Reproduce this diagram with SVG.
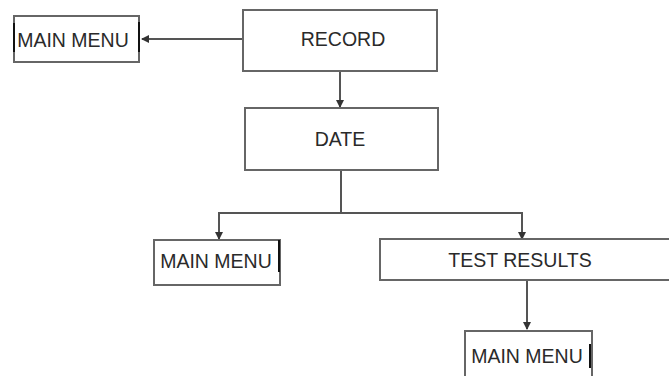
<svg xmlns="http://www.w3.org/2000/svg" width="669" height="376" viewBox="0 0 669 376">
<style>
.box{fill:#fff;stroke:#666;stroke-width:2}
.t{font-family:"Liberation Sans",Arial,sans-serif;font-size:19.5px;fill:#2a2a2a;text-anchor:middle;dominant-baseline:central}
.c{fill:none;stroke:#555;stroke-width:2}
.mk{stroke:#111;stroke-width:2}
</style>
<defs>
<marker id="ah" viewBox="0 0 8 8" refX="7" refY="4" markerWidth="4" markerHeight="4" orient="auto" markerUnits="strokeWidth">
<path d="M0,0L8,4L0,8z" fill="#333"/>
</marker>
</defs>
<rect width="669" height="376" fill="#fff"/>
<g id="connectors">
<line class="c" x1="243" y1="39" x2="142" y2="39" marker-end="url(#ah)"/>
<line class="c" x1="340" y1="72" x2="340" y2="107" marker-end="url(#ah)"/>
<polyline class="c" points="341,170 341,213 219,213 219,239" marker-end="url(#ah)"/>
<polyline class="c" points="341,213 522,213 522,239" marker-end="url(#ah)"/>
<line class="c" x1="527" y1="281" x2="527" y2="329" marker-end="url(#ah)"/>
</g>
<g id="main_menu_1">
<rect class="box" x="14" y="16" width="125" height="46"/>
<line class="mk" x1="14" y1="23" x2="14" y2="52"/>
<line class="mk" x1="139" y1="22" x2="139" y2="52"/>
<text class="t" x="73" y="40">MAIN MENU</text>
</g>
<g id="record">
<rect class="box" x="243" y="10" width="194" height="61"/>
<text class="t" x="343" y="39">RECORD</text>
</g>
<g id="date">
<rect class="box" x="245" y="108" width="193" height="62"/>
<text class="t" x="340" y="139">DATE</text>
</g>
<g id="main_menu_2">
<rect class="box" x="154" y="240" width="126" height="45"/>
<line class="mk" x1="279" y1="240" x2="279" y2="272"/>
<text class="t" x="216" y="261">MAIN MENU</text>
</g>
<g id="test_results">
<rect class="box" x="380" y="239" width="292" height="41"/>
<text class="t" x="520" y="260">TEST RESULTS</text>
</g>
<g id="main_menu_3">
<rect class="box" x="465" y="331" width="127" height="50"/>
<line class="mk" x1="590" y1="344" x2="590" y2="368"/>
<text class="t" x="527" y="356">MAIN MENU</text>
</g>
</svg>
